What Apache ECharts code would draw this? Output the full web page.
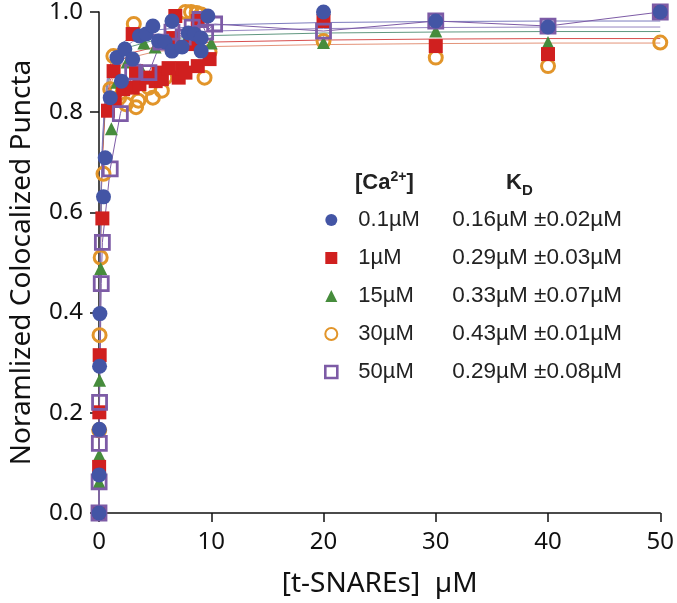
<!DOCTYPE html>
<html><head><meta charset="utf-8">
<script src="https://cdn.jsdelivr.net/npm/echarts@6/dist/echarts.min.js"></script>
<style>html,body{margin:0;padding:0;background:#fff}#c{width:677px;height:603px}</style>
</head><body><div id="c"></div>
<script>
// ---- data ----
const caLabels = ['0.1µM', '1µM', '15µM', '30µM', '50µM'];
const kdLabels = ['0.16µM ±0.02µM', '0.29µM ±0.03µM', '0.33µM ±0.07µM', '0.43µM ±0.01µM', '0.29µM ±0.08µM'];
const xTicks = [0, 10, 20, 30, 40, 50];
const yTicks = [0.0, 0.2, 0.4, 0.6, 0.8, 1.0];

const blueX = [0, 0.01, 0.03, 0.05, 0.08, 0.4, 0.55, 1.0, 1.6, 2.0, 2.3, 3.0, 3.6, 4.2, 4.8, 5.3, 5.9, 6.5, 6.5, 7.4, 7.95, 8.5, 9.1, 9.1, 9.7, 20, 30, 40, 50];
const blueY = [0, 0.076, 0.167, 0.293, 0.398, 0.631, 0.709, 0.829, 0.909, 0.862, 0.926, 0.906, 0.952, 0.956, 0.972, 0.942, 0.940, 0.982, 0.922, 0.930, 0.958, 0.956, 0.948, 0.922, 0.992, 1.0, 0.982, 0.970, 1.0];

const redX = [0, 0.01, 0.03, 0.06, 0.3, 0.8, 1.3, 1.4, 2.15, 3.0, 3.0, 3.3, 3.6, 4.2, 5.05, 5.3, 5.6, 6.2, 6.6, 6.8, 7.1, 7.4, 7.7, 8.2, 8.8, 8.8, 9.85, 20, 30, 40, 50];
const redY = [0, 0.092, 0.201, 0.315, 0.588, 0.803, 0.882, 0.823, 0.846, 0.956, 0.849, 0.882, 0.856, 0.869, 0.862, 0.879, 0.866, 0.888, 0.948, 0.992, 0.869, 0.888, 0.879, 0.936, 0.982, 0.892, 0.906, 0.982, 0.932, 0.916, 1.0];

const greenX = [0, 0.01, 0.02, 0.05, 0.15, 1.1, 1.6, 2.5, 3.9, 4.0, 5.0, 6.0, 7.0, 8.0, 9.0, 10.0, 20, 30, 40, 50];
const greenY = [0, 0.062, 0.116, 0.265, 0.488, 0.767, 0.86, 0.90, 0.879, 0.938, 0.93, 0.95, 0.94, 0.955, 0.95, 0.938, 0.939, 0.962, 0.939, 1.0];

const orangeX = [0, 0.02, 0.05, 0.15, 0.4, 1.0, 1.28, 1.57, 1.8, 2.4, 3.1, 3.3, 3.5, 4.45, 4.8, 5.6, 5.9, 7.7, 8.2, 8.7, 9.1, 9.4, 9.85, 20, 30, 40, 50];
const orangeY = [0, 0.165, 0.355, 0.51, 0.677, 0.846, 0.912, 0.843, 0.829, 0.816, 0.976, 0.81, 0.823, 0.849, 0.829, 0.843, 0.869, 1.0, 1.0, 0.998, 0.995, 0.869, 0.92, 0.942, 0.909, 0.892, 0.939];

const purpleX = [0, 0.01, 0.03, 0.05, 0.2, 0.3, 1.0, 1.9, 3.0, 4.45, 5.5, 6.5, 7.5, 8.3, 9.0, 9.5, 10.3, 20, 30, 40, 50];
const purpleY = [0, 0.062, 0.139, 0.221, 0.458, 0.54, 0.687, 0.797, 0.88, 0.879, 0.94, 0.96, 0.95, 0.97, 0.985, 0.96, 0.976, 0.962, 0.982, 0.972, 1.0];

// fitted curves
const fitX = [0, 0.05, 0.1, 0.2, 0.3, 0.5, 0.75, 1, 1.5, 2, 3, 5, 10, 20, 30, 40, 50];
const fitBlue   = [0, 0.328, 0.492, 0.656, 0.738, 0.820, 0.868, 0.894, 0.922, 0.937, 0.953, 0.964, 0.974, 0.979, 0.981, 0.982, 0.982];
const fitRed    = [0, 0.316, 0.475, 0.633, 0.712, 0.791, 0.837, 0.863, 0.890, 0.903, 0.919, 0.930, 0.940, 0.944, 0.946, 0.947, 0.947];
const fitGreen  = [0, 0.321, 0.482, 0.642, 0.722, 0.802, 0.849, 0.875, 0.903, 0.917, 0.932, 0.944, 0.953, 0.958, 0.960, 0.961, 0.961];
const fitOrange = [0, 0.313, 0.470, 0.627, 0.705, 0.783, 0.829, 0.854, 0.881, 0.895, 0.910, 0.921, 0.931, 0.935, 0.937, 0.938, 0.938];
const fitPurple = [0, 0.324, 0.486, 0.648, 0.729, 0.810, 0.857, 0.884, 0.911, 0.925, 0.941, 0.953, 0.962, 0.967, 0.969, 0.970, 0.970];

// ---- chart ----
const C = { blue: '#4355a5', red: '#d0201f', green: '#468c3c', orange: '#e2952a', purple: '#7d5ba6' };
const zip = (xs, ys) => xs.map((x, i) => [x, ys[i]]);
const axisFont = 'Noto Sans';
const txtFont = 'Liberation Sans';

function fitSeries(ys, color) {
  return { type: 'line', data: zip(fitX, ys), symbol: 'none', smooth: false, silent: true, z: 1,
    lineStyle: { color: color, width: 1, opacity: 0.9 }, clip: false };
}

const chart = echarts.init(document.getElementById('c'), null, { renderer: 'canvas' });
chart.setOption({
  animation: false,
  backgroundColor: '#fff',
  grid: { left: 92, right: 11, top: 11, bottom: 90 },
  xAxis: {
    type: 'value', min: 0, max: 50, interval: 10,
    name: '[t-SNAREs]  µM', nameLocation: 'middle', nameGap: 57,
    nameTextStyle: { fontFamily: axisFont, fontSize: 28, color: '#111' },
    axisLine: { show: true, onZero: false, lineStyle: { color: '#111', width: 1.5 } },
    axisTick: { show: true, length: 9, lineStyle: { color: '#111', width: 1.5 } },
    axisLabel: { fontFamily: axisFont, fontSize: 24, color: '#111', margin: 17,
      formatter: v => xTicks.includes(v) ? String(v) : '' },
    splitLine: { show: false }
  },
  yAxis: {
    type: 'value', min: 0, max: 1, interval: 0.2,
    name: 'Noramlized Colocalized Puncta', nameLocation: 'middle', nameGap: 63, nameRotate: 90,
    nameTextStyle: { fontFamily: axisFont, fontSize: 28, color: '#111' },
    axisLine: { show: true, onZero: false, lineStyle: { color: '#111', width: 1.5 } },
    axisTick: { show: true, length: 9, lineStyle: { color: '#111', width: 1.5 } },
    axisLabel: { fontFamily: axisFont, fontSize: 24, color: '#111', margin: 16,
      formatter: v => yTicks.some(t => Math.abs(t - v) < 1e-9) ? v.toFixed(1) : '' },
    splitLine: { show: false }
  },
  legend: {
    orient: 'vertical', left: 319, top: 202, itemGap: 12, itemWidth: 12, itemHeight: 12,
    data: [
      { name: caLabels[0], icon: 'circle' },
      { name: caLabels[1], icon: 'rect', itemStyle: { color: C.red } },
      { name: caLabels[2], icon: 'triangle' },
      { name: caLabels[3], icon: 'circle' },
      { name: caLabels[4], icon: 'rect', itemStyle: { color: '#fff', borderColor: C.purple, borderWidth: 2.6 } }
    ],
    formatter: name => '{s|}{a|' + name + '}{b|' + kdLabels[caLabels.indexOf(name)] + '}',
    textStyle: { fontFamily: txtFont, fontSize: 22, color: '#222', lineHeight: 26,
      rich: { s: { width: 16 }, a: { width: 94, fontFamily: txtFont, fontSize: 22 }, b: { fontFamily: txtFont, fontSize: 22.5 } } }
  },
  graphic: [
    { type: 'text', left: 355, top: 170, style: { text: '{a|[Ca}{sup|2+}{a|]}', fill: '#222',
      rich: { a: { fontFamily: txtFont, fontSize: 22, fontWeight: 'bold', lineHeight: 26 },
              sup: { fontFamily: txtFont, fontSize: 14, fontWeight: 'bold', verticalAlign: 'top', lineHeight: 26 } } } },
    { type: 'text', left: 506, top: 172, style: { text: '{a|K}{sub|D}', fill: '#222',
      rich: { a: { fontFamily: txtFont, fontSize: 22, fontWeight: 'bold', lineHeight: 26 },
              sub: { fontFamily: txtFont, fontSize: 15, fontWeight: 'bold', verticalAlign: 'bottom', lineHeight: 30 } } } }
  ],
  series: [
    fitSeries(fitOrange, '#e0876a'),
    fitSeries(fitRed, '#d33b3b'),
    fitSeries(fitGreen, '#4f8c72'),
    fitSeries(fitBlue, '#6e6db6'),
    fitSeries(fitPurple, '#8b79bb'),
    { name: caLabels[3], type: 'scatter', data: zip(orangeX, orangeY), symbol: 'circle', symbolSize: 13, clip: false, z: 2,
      itemStyle: { color: 'rgba(255,255,255,0)', borderColor: C.orange, borderWidth: 3, opacity: 1 } },
    { name: caLabels[2], type: 'scatter', data: zip(greenX, greenY), symbol: 'triangle', symbolSize: 13, clip: false, z: 2,
      itemStyle: { color: C.green, opacity: 1 } },
    { name: caLabels[1], type: 'scatter', data: zip(redX, redY), symbol: 'rect', symbolSize: 14, clip: false, z: 2,
      itemStyle: { color: C.red, opacity: 1 } },
    { name: caLabels[4], type: 'line', data: zip(purpleX, purpleY), symbol: 'rect', symbolSize: 14, showAllSymbol: true, clip: false, z: 2,
      lineStyle: { color: C.purple, width: 1 },
      itemStyle: { color: 'rgba(255,255,255,0)', borderColor: C.purple, borderWidth: 2.8, opacity: 1 } },
    { name: caLabels[0], type: 'scatter', data: zip(blueX, blueY), symbol: 'circle', symbolSize: 15, clip: false, z: 2,
      itemStyle: { color: C.blue, opacity: 1 } }
  ]
});
</script></body></html>
